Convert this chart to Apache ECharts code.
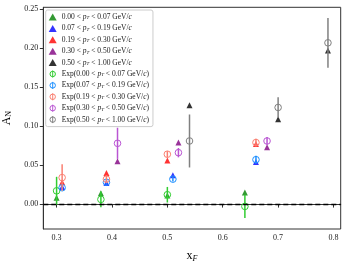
<!DOCTYPE html>
<html><head><meta charset="utf-8">
<script src="https://cdn.jsdelivr.net/npm/echarts@6/dist/echarts.min.js"></script>
<style>html,body{margin:0;padding:0;background:#fff}#c{width:347px;height:265px}</style>
</head><body><div id="c"></div>
<script>
// pT bins
const ptBins = [['0.00','0.07'],['0.07','0.19'],['0.19','0.30'],['0.30','0.50'],['0.50','1.00']];
const modelColors = ['#008000','#0000ff','#ff0000','#800080','#000000'];
const expColors = ['#32cd32','#1e90ff','#fa8072','#ba55d3','#808080'];

// model (triangles)
const modelX0 = [0.30, 0.38, 0.50, 0.64];
const modelY0 = [0.008, 0.014, 0.011, 0.015];
const modelX1 = [0.31, 0.39, 0.51, 0.66];
const modelY1 = [0.022, 0.027, 0.037, 0.054];
const modelX2 = [0.31, 0.39, 0.50, 0.66];
const modelY2 = [0.028, 0.040, 0.056, 0.077];
const modelX3 = [0.41, 0.52, 0.68];
const modelY3 = [0.055, 0.079, 0.073];
const modelX4 = [0.54, 0.70, 0.79];
const modelY4 = [0.127, 0.109, 0.197];

// experiment (open circles with error bars)
const expX0 = [0.30, 0.38, 0.50, 0.64];
const expY0 = [0.017, 0.006, 0.012, -0.003];
const expE0 = [0.018, 0.010, 0.010, 0.015];
const expX1 = [0.31, 0.39, 0.51, 0.66];
const expY1 = [0.021, 0.028, 0.032, 0.057];
const expE1 = [0.003, 0.003, 0.003, 0.005];
const expX2 = [0.31, 0.39, 0.50, 0.66];
const expY2 = [0.034, 0.032, 0.064, 0.079];
const expE2 = [0.017, 0.005, 0.004, 0.005];
const expX3 = [0.41, 0.52, 0.68];
const expY3 = [0.078, 0.066, 0.081];
const expE3 = [0.020, 0.006, 0.005];
const expX4 = [0.54, 0.70, 0.79];
const expY4 = [0.081, 0.124, 0.207];
const expE4 = [0.034, 0.013, 0.032];

const xTicks = [0.3, 0.4, 0.5, 0.6, 0.7, 0.8];
const yTicks = [0.00, 0.05, 0.10, 0.15, 0.20, 0.25];

const modelX = [modelX0, modelX1, modelX2, modelX3, modelX4];
const modelY = [modelY0, modelY1, modelY2, modelY3, modelY4];
const expX = [expX0, expX1, expX2, expX3, expX4];
const expY = [expY0, expY1, expY2, expY3, expY4];
const expE = [expE0, expE1, expE2, expE3, expE4];

const modelNames = ptBins.map(b => b[0] + ' < pT < ' + b[1] + ' GeV/c');
const expNames = ptBins.map(b => 'Exp(' + b[0] + ' < pT < ' + b[1] + ' GeV/c)');

const series = [];
for (let i = 0; i < 5; i++) {
  series.push({
    name: modelNames[i], type: 'scatter', symbol: 'triangle', symbolSize: 6,
    itemStyle: { color: modelColors[i] }, z: 3,
    data: modelX[i].map((x, k) => [x, modelY[i][k]])
  });
}
for (let i = 0; i < 5; i++) {
  const col = expColors[i];
  series.push({
    name: expNames[i], type: 'custom', z: 4,
    data: expX[i].map((x, k) => [x, expY[i][k], expE[i][k]]),
    renderItem: function (params, api) {
      const x = api.value(0), y = api.value(1), e = api.value(2);
      const p = api.coord([x, y]);
      const lo = api.coord([x, y - e]);
      const hi = api.coord([x, y + e]);
      return { type: 'group', children: [
        { type: 'line', shape: { x1: lo[0], y1: lo[1], x2: hi[0], y2: hi[1] }, style: { stroke: col, lineWidth: 1.5 } },
        { type: 'circle', shape: { cx: p[0], cy: p[1], r: 3.3 }, style: { fill: 'none', stroke: col, lineWidth: 1 } }
      ]};
    }
  });
}
// zero reference line
series[0].markLine = {
  silent: true, symbol: 'none', label: { show: false },
  lineStyle: { color: '#000', type: [5, 3], width: 1.3 },
  data: [{ yAxis: 0 }]
};

const expIcon = 'path://M4,0 L4,9 M0.5,4.5 A3.5,3.5 0 1,0 7.5,4.5 A3.5,3.5 0 1,0 0.5,4.5 Z';
const legendData = [];
for (let i = 0; i < 5; i++) legendData.push({ name: modelNames[i], icon: 'triangle', itemStyle: { color: modelColors[i] } });
for (let i = 0; i < 5; i++) legendData.push({ name: expNames[i], icon: expIcon, itemStyle: { color: 'rgba(0,0,0,0)', borderColor: expColors[i], borderWidth: 1 } });

const serif = 'Liberation Serif';
const chart = echarts.init(document.getElementById('c'));
chart.setOption({
  animation: false,
  backgroundColor: '#fff',
  grid: { left: 43.3, right: 6.3, top: 7.3, bottom: 36, containLabel: false, outerBoundsMode: 'none', show: true, borderColor: '#333', borderWidth: 1 },
  xAxis: {
    type: 'value', min: 0.276, max: 0.813,
    name: 'x{s|F}', nameLocation: 'middle', nameGap: 20,
    nameTextStyle: { fontFamily: serif, fontSize: 12, color: '#000', rich: { s: { fontFamily: serif, fontSize: 8, fontStyle: 'italic', verticalAlign: 'bottom', padding: [6, 0, 0, 0] } } },
    axisLine: { lineStyle: { color: '#333', width: 1 } },
    axisTick: { show: true, length: 3.5, lineStyle: { color: '#333' }, customValues: xTicks },
    axisLabel: { fontFamily: serif, fontSize: 8, color: '#222', margin: 5, customValues: xTicks, formatter: v => v.toFixed(1) },
    splitLine: { show: false }
  },
  yAxis: {
    type: 'value', min: -0.032, max: 0.2526,
    name: 'A{s|N}', nameLocation: 'middle', nameGap: 27, nameRotate: 90,
    nameTextStyle: { fontFamily: serif, fontSize: 12, color: '#000', rich: { s: { fontFamily: serif, fontSize: 8, verticalAlign: 'bottom', padding: [6, 0, 0, 0] } } },
    axisLine: { show: true, lineStyle: { color: '#333', width: 1 } },
    axisTick: { show: true, length: 3.5, lineStyle: { color: '#333' }, customValues: yTicks },
    axisLabel: { fontFamily: serif, fontSize: 8, color: '#222', margin: 5, customValues: yTicks, formatter: v => v.toFixed(2) },
    splitLine: { show: false }
  },
  legend: {
    orient: 'vertical', left: 45.7, top: 10,
    backgroundColor: '#fff', borderColor: '#ccc', borderWidth: 1, borderRadius: 2,
    padding: [3, 4, 3, 3], itemWidth: 8, itemHeight: 7, itemGap: 3.4,
    data: legendData,
    formatter: function (name) {
      return name.replace('pT', '{i|p}{s|T}').replace('GeV/c', 'GeV/{i|c}');
    },
    textStyle: {
      fontFamily: serif, fontSize: 7.5, color: '#222', lineHeight: 7,
      rich: {
        i: { fontFamily: serif, fontSize: 7.5, fontStyle: 'italic', color: '#222' },
        s: { fontFamily: serif, fontSize: 5, fontStyle: 'italic', color: '#222', verticalAlign: 'bottom', padding: [3, 0, 0, 0] }
      }
    }
  },
  series: series
});
</script></body></html>
